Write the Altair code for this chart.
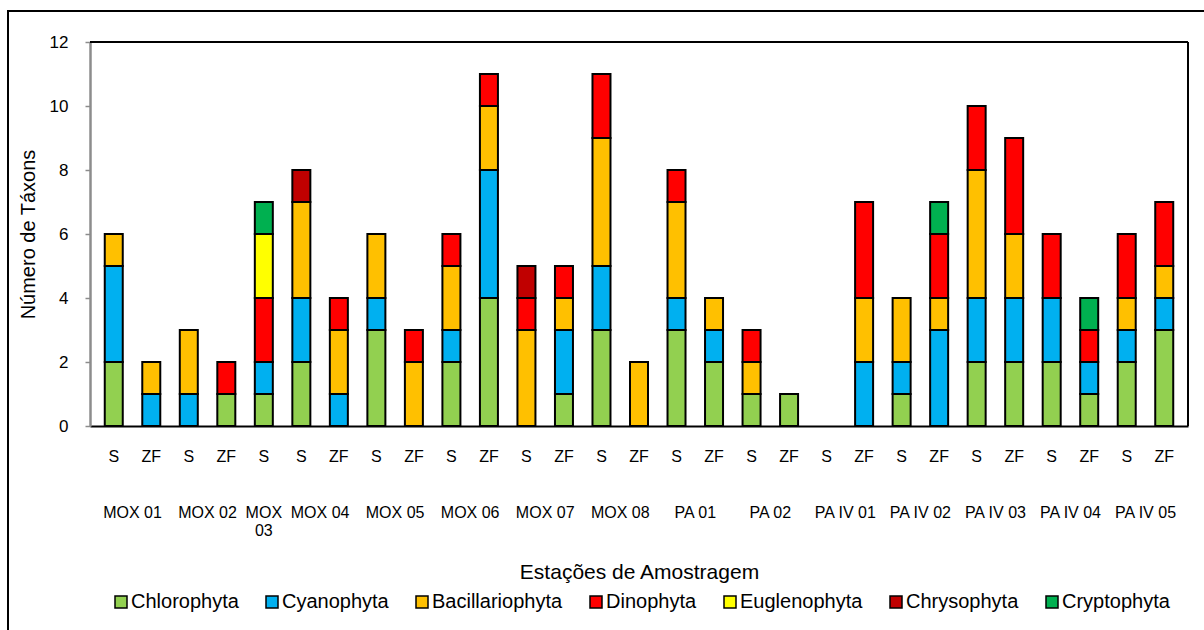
import altair as alt
import pandas as pd

# ---- data -------------------------------------------------------------
stations = ["MOX 01", "MOX 01", "MOX 02", "MOX 02", "MOX\n03", "MOX 04", "MOX 04",
            "MOX 05", "MOX 05", "MOX 06", "MOX 06", "MOX 07", "MOX 07", "MOX 08", "MOX 08",
            "PA 01", "PA 01", "PA 02", "PA 02", "PA IV 01", "PA IV 01", "PA IV 02", "PA IV 02",
            "PA IV 03", "PA IV 03", "PA IV 04", "PA IV 04", "PA IV 05", "PA IV 05"]
depths = ["S", "ZF", "S", "ZF", "S", "S", "ZF", "S", "ZF", "S", "ZF", "S", "ZF", "S", "ZF",
          "S", "ZF", "S", "ZF", "S", "ZF", "S", "ZF", "S", "ZF", "S", "ZF", "S", "ZF"]

phyla = ["Chlorophyta", "Cyanophyta", "Bacillariophyta", "Dinophyta",
         "Euglenophyta", "Chrysophyta", "Cryptophyta"]
colors = ["#92D050", "#00B0F0", "#FFC000", "#FF0000", "#FFFF00", "#C00000", "#00B050"]

chlorophyta =     [2, 0, 0, 1, 1, 2, 0, 3, 0, 2, 4, 0, 1, 3, 0, 3, 2, 1, 1, 0, 0, 1, 0, 2, 2, 2, 1, 2, 3]
cyanophyta =      [3, 1, 1, 0, 1, 2, 1, 1, 0, 1, 4, 0, 2, 2, 0, 1, 1, 0, 0, 0, 2, 1, 3, 2, 2, 2, 1, 1, 1]
bacillariophyta = [1, 1, 2, 0, 0, 3, 2, 2, 2, 2, 2, 3, 1, 4, 2, 3, 1, 1, 0, 0, 2, 2, 1, 4, 2, 0, 0, 1, 1]
dinophyta =       [0, 0, 0, 1, 2, 0, 1, 0, 1, 1, 1, 1, 1, 2, 0, 1, 0, 1, 0, 0, 3, 0, 2, 2, 3, 2, 1, 2, 2]
euglenophyta =    [0, 0, 0, 0, 2, 0, 0, 0, 0, 0, 0, 0, 0, 0, 0, 0, 0, 0, 0, 0, 0, 0, 0, 0, 0, 0, 0, 0, 0]
chrysophyta =     [0, 0, 0, 0, 0, 1, 0, 0, 0, 0, 0, 1, 0, 0, 0, 0, 0, 0, 0, 0, 0, 0, 0, 0, 0, 0, 0, 0, 0]
cryptophyta =     [0, 0, 0, 0, 1, 0, 0, 0, 0, 0, 0, 0, 0, 0, 0, 0, 0, 0, 0, 0, 0, 0, 1, 0, 0, 0, 1, 0, 0]

series = [chlorophyta, cyanophyta, bacillariophyta, dinophyta, euglenophyta, chrysophyta, cryptophyta]

rows = []
for k, (name, vals) in enumerate(zip(phyla, series)):
    for i, v in enumerate(vals):
        if v > 0:
            rows.append({"idx": i, "phylum": name, "ord": k, "n": v})
bars_df = pd.DataFrame(rows)

st_df = pd.DataFrame({"idx": range(len(stations)), "station": stations, "depth": depths})
grp_df = st_df.groupby("station", sort=False)["idx"].mean().reset_index()

W, H = 1098, 384
FONT = "Liberation Sans"

xscale = alt.Scale(domain=[-0.5, len(depths) - 0.5], nice=False, zero=False)
xaxis = alt.Axis(values=[], labels=False, ticks=False, grid=False,
                 domainColor="black", domainWidth=2,
                 title="Estações de Amostragem", titleFontSize=21,
                 titleFontWeight="normal", titleColor="black",
                 titleY=146, titleBaseline="middle")

bars = alt.Chart(bars_df).mark_bar(size=18, stroke="black", strokeWidth=2).encode(
    x=alt.X("idx:Q", scale=xscale, axis=xaxis),
    y=alt.Y("n:Q", stack="zero", scale=alt.Scale(domain=[0, 12], nice=False),
            axis=alt.Axis(values=list(range(0, 13, 2)), grid=False, domainColor="#8c8c8c",
                          domainWidth=2.5, tickColor="#8c8c8c", tickSize=5, tickWidth=1.5,
                          labelFontSize=17, labelPadding=17, labelColor="black",
                          title="Número de Táxons", titleFontSize=20,
                          titleFontWeight="normal", titleColor="black",
                          titleAngle=-90, titleX=-62, titleY=H / 2,
                          titleAlign="center", titleBaseline="middle")),
    color=alt.Color("phylum:N", scale=alt.Scale(domain=phyla, range=colors),
                    legend=alt.Legend(title=None, orient="none", direction="horizontal",
                                      columns=7, legendX=21, legendY=550,
                                      symbolType="square", symbolSize=144,
                                      symbolStrokeColor="black", symbolStrokeWidth=1.5,
                                      labelFontSize=20, labelOffset=0, columnPadding=23,
                                      labelColor="black", labelLimit=300)),
    order=alt.Order("ord:Q", sort="ascending"),
)

depth_labels = alt.Chart(st_df).mark_text(fontSize=16, baseline="middle", align="center",
                                          color="black").encode(
    x=alt.X("idx:Q", scale=xscale, axis=xaxis),
    y=alt.value(457 - 42),
    text="depth:N",
)

groups = alt.Chart(grp_df).mark_text(fontSize=16, baseline="middle", align="center",
                                     lineBreak="\n", lineHeight=18, color="black").encode(
    x=alt.X("idx:Q", scale=xscale, axis=xaxis),
    y=alt.value(513 - 42),
    text="station:N",
)

one = alt.Data(values=[{}])
top_rule = alt.Chart(one).mark_rule(color="black", strokeWidth=2).encode(
    x=alt.value(0), x2=alt.value(W), y=alt.value(0))
right_rule = alt.Chart(one).mark_rule(color="black", strokeWidth=2).encode(
    x=alt.value(W), y=alt.value(0), y2=alt.value(H))
border = alt.Chart(one).mark_rect(fill=None, fillOpacity=0, stroke="black", strokeWidth=2).encode(
    x=alt.value(-82), x2=alt.value(1300), y=alt.value(-31), y2=alt.value(800))

chart = alt.layer(border, bars, depth_labels, groups, top_rule, right_rule).properties(
    width=W, height=H,
    padding={"left": 90, "top": 42, "right": 16, "bottom": 204},
    autosize=alt.AutoSizeParams(type="none"),
    background="white",
).configure_view(stroke=None).configure(font=FONT)

chart.save("out.html", embed_options={"renderer": "svg", "actions": False})
